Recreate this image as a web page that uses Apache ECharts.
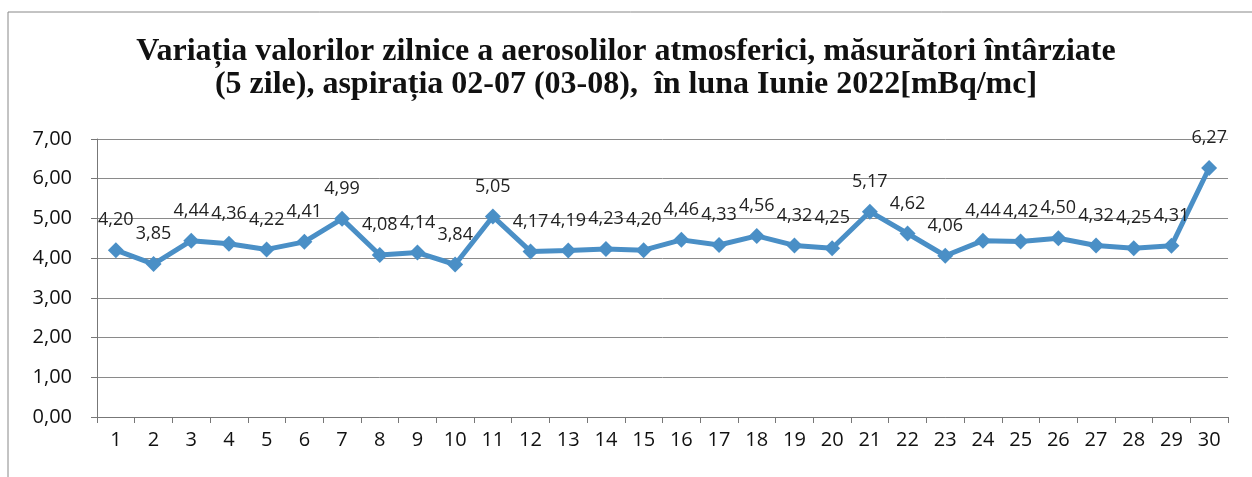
<!DOCTYPE html>
<html lang="ro">
<head>
    <meta charset="UTF-8">
    <title>Aerosoli atmosferici</title>
    <script src="https://cdn.jsdelivr.net/npm/echarts@6/dist/echarts.min.js"></script>
    <style>
        html, body { margin: 0; padding: 0; background: #fff; }
        #container { width: 1252px; height: 477px; }
    </style>
</head>
<body>
<div id="container"></div>
<script>
    var zile = ['1','2','3','4','5','6','7','8','9','10','11','12','13','14','15',
        '16','17','18','19','20','21','22','23','24','25','26','27','28','29','30'];
    var valori = [4.20, 3.85, 4.44, 4.36, 4.22, 4.41, 4.99, 4.08, 4.14, 3.84,
        5.05, 4.17, 4.19, 4.23, 4.20, 4.46, 4.33, 4.56, 4.32, 4.25,
        5.17, 4.62, 4.06, 4.44, 4.42, 4.50, 4.32, 4.25, 4.31, 6.27];
    var titlu = 'Variația valorilor zilnice a aerosolilor atmosferici, măsurători întârziate\n(5 zile), aspirația 02-07 (03-08),  în luna Iunie 2022[mBq/mc]';

    function virgula(v) {
        return v.toFixed(2).replace('.', ',');
    }

    var myChart = echarts.init(document.getElementById('container'));
    var option = {
        animation: false,
        graphic: [{
            type: 'rect',
            shape: { x: 8, y: 12, width: 1260, height: 480 },
            style: { fill: 'none', stroke: '#888', lineWidth: 1 },
            silent: true
        }],
        title: {
            text: titlu,
            left: 'center',
            top: 30,
            padding: [5, 5, 5, 23],
            textStyle: {
                fontFamily: 'Liberation Serif',
                fontWeight: 'bold',
                fontSize: 32,
                lineHeight: 33,
                color: '#111'
            }
        },
        grid: {
            left: 97,
            right: 24,
            top: 139,
            bottom: 60
        },
        xAxis: {
            type: 'category',
            data: zile,
            boundaryGap: true,
            axisLine: { lineStyle: { color: '#777', width: 1 } },
            axisTick: { show: true, length: 6, lineStyle: { color: '#777' } },
            axisLabel: {
                color: '#111',
                fontFamily: 'Open Sans',
                fontSize: 20,
                margin: 13
            }
        },
        yAxis: {
            type: 'value',
            min: 0,
            max: 7,
            interval: 1,
            axisLine: { show: true, lineStyle: { color: '#777', width: 1 } },
            axisTick: { show: true, length: 6, lineStyle: { color: '#777' } },
            splitLine: { lineStyle: { color: '#8a8a8a', width: 1 } },
            axisLabel: {
                color: '#111',
                fontFamily: 'Open Sans',
                fontSize: 20,
                margin: 25,
                formatter: function (v) { return virgula(v); }
            }
        },
        series: [{
            type: 'line',
            data: valori,
            symbol: 'diamond',
            symbolSize: 16,
            lineStyle: { color: '#4a8fc6', width: 5 },
            itemStyle: { color: '#4a8fc6' },
            label: {
                show: true,
                position: 'top',
                distance: 13,
                color: '#222',
                fontFamily: 'Open Sans',
                fontSize: 18,
                formatter: function (p) { return virgula(p.value); }
            }
        }]
    };
    myChart.setOption(option);
</script>
</body>
</html>
